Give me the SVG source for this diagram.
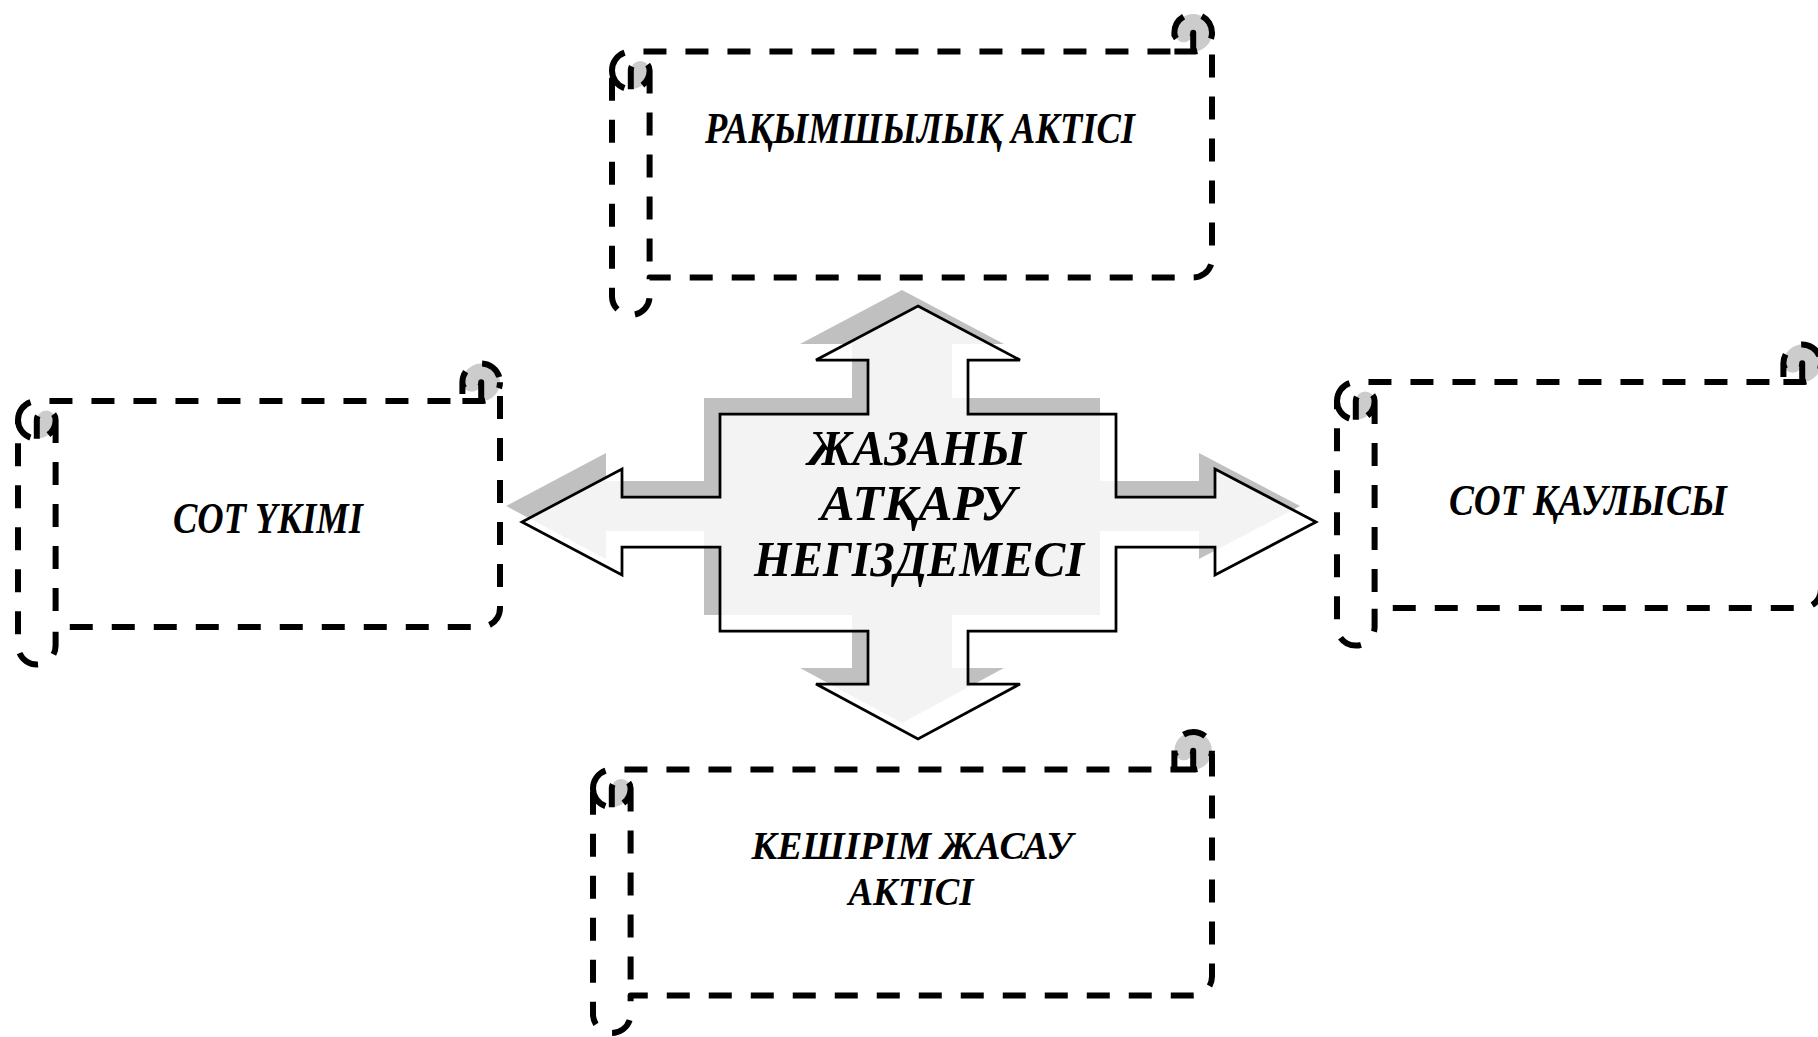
<svg xmlns="http://www.w3.org/2000/svg" width="1818" height="1037" viewBox="0 0 1818 1037">
<style>
  .sfill{fill:#ffffff;stroke:none}
  .sdark{fill:#cccccc;stroke:none}
  .sline{fill:none;stroke:#000;stroke-width:6;stroke-dasharray:23 19;stroke-linecap:butt;stroke-linejoin:round}
  .lbl{font-family:"Liberation Serif","Times New Roman",serif;font-weight:bold;font-style:italic;font-size:44px;fill:#000;text-anchor:middle}
  .ctr{font-size:50px}
  .sm{font-size:40px}
  .shadow{fill:#c0c0c0;stroke:none}
  .arrow{fill:#ffffff;fill-opacity:0.8;stroke:#000;stroke-width:2.75;stroke-linejoin:miter}
</style>
<rect width="1818" height="1037" fill="#ffffff"/>

<g id="connectors">
  <polygon class="shadow" transform="translate(-16,-16)" points="918,306 1020,360 968,360 968,414 1116,414 1116,497 1215,497 1215,469 1316,522 1215,575 1215,547 1116,547 1116,631 968,631 968,684 1020,684 918,739 816,684 868,684 868,631 720,631 720,547 622,547 622,575 522,522 622,469 622,497 720,497 720,414 868,414 868,360 816,360"/>
  <polygon class="arrow" points="918,306 1020,360 968,360 968,414 1116,414 1116,497 1215,497 1215,469 1316,522 1215,575 1215,547 1116,547 1116,631 968,631 968,684 1020,684 918,739 816,684 868,684 868,631 720,631 720,547 622,547 622,575 522,522 622,469 622,497 720,497 720,414 868,414 868,360 816,360"/>
</g>

<g id="center">
  <text class="lbl ctr" x="917" y="465" textLength="218" lengthAdjust="spacingAndGlyphs">ЖАЗАНЫ</text>
  <text class="lbl ctr" x="918" y="520" textLength="195" lengthAdjust="spacingAndGlyphs">АТҚАРУ</text>
  <text class="lbl ctr" x="919" y="576" textLength="330" lengthAdjust="spacingAndGlyphs">НЕГІЗДЕМЕСІ</text>
</g>

<!-- Top scroll: w=600 -->
<g id="node-top" transform="translate(612,14)">
  <path class="sfill" d="M600 18.8 A18.8 18.8 0 0 1 581.2 37.6 L581.2 18.8 A9.4 9.4 0 0 1 562.4 18.8 L562.4 37.6 L18.8 37.6 A18.8 18.8 0 0 0 0 56.4 L0 282.2 A18.8 18.8 0 0 0 37.6 282.2 L37.6 263.4 L581.2 263.4 A18.8 18.8 0 0 0 600 244.6 Z"/>
  <path class="sdark" d="M18.8 75.2 A18.8 18.8 0 0 0 37.6 56.4 A9.4 9.4 0 0 0 18.8 56.4 Z M581.2 37.6 A18.8 18.8 0 1 0 562.4 18.8 A9.4 9.4 0 0 0 581.2 18.8 Z"/>
  <path class="sline" d="M0 56.4 A18.8 18.8 0 0 1 18.8 37.6 L562.4 37.6 L562.4 18.8 A18.8 18.8 0 0 1 600 18.8 L600 244.6 A18.8 18.8 0 0 1 581.2 263.4 L37.6 263.4 L37.6 282.2 A18.8 18.8 0 0 1 0 282.2 Z M562.4 37.6 L581.2 37.6 A18.8 18.8 0 0 0 600 18.8 M581.2 37.6 L581.2 18.8 A9.4 9.4 0 0 1 562.4 18.8 M18.8 75.2 L18.8 56.4 A9.4 9.4 0 0 1 37.6 56.4 A18.8 18.8 0 0 1 0 56.4 M37.6 56.4 L37.6 263.4"/>
  <text class="lbl" x="308" y="129" textLength="430" lengthAdjust="spacingAndGlyphs">РАҚЫМШЫЛЫҚ АКТІСІ</text>
</g>

<!-- Left scroll: w=482 -->
<g id="node-left" transform="translate(18,363.5)">
  <path class="sfill" d="M482 18.8 A18.8 18.8 0 0 1 463.2 37.6 L463.2 18.8 A9.4 9.4 0 0 1 444.4 18.8 L444.4 37.6 L18.8 37.6 A18.8 18.8 0 0 0 0 56.4 L0 282.2 A18.8 18.8 0 0 0 37.6 282.2 L37.6 263.4 L463.2 263.4 A18.8 18.8 0 0 0 482 244.6 Z"/>
  <path class="sdark" d="M18.8 75.2 A18.8 18.8 0 0 0 37.6 56.4 A9.4 9.4 0 0 0 18.8 56.4 Z M463.2 37.6 A18.8 18.8 0 1 0 444.4 18.8 A9.4 9.4 0 0 0 463.2 18.8 Z"/>
  <path class="sline" d="M0 56.4 A18.8 18.8 0 0 1 18.8 37.6 L444.4 37.6 L444.4 18.8 A18.8 18.8 0 0 1 482 18.8 L482 244.6 A18.8 18.8 0 0 1 463.2 263.4 L37.6 263.4 L37.6 282.2 A18.8 18.8 0 0 1 0 282.2 Z M444.4 37.6 L463.2 37.6 A18.8 18.8 0 0 0 482 18.8 M463.2 37.6 L463.2 18.8 A9.4 9.4 0 0 1 444.4 18.8 M18.8 75.2 L18.8 56.4 A9.4 9.4 0 0 1 37.6 56.4 A18.8 18.8 0 0 1 0 56.4 M37.6 56.4 L37.6 263.4"/>
  <text class="lbl" x="250" y="169.5" textLength="190" lengthAdjust="spacingAndGlyphs">СОТ ҮКІМІ</text>
</g>

<!-- Right scroll: w=484 (right edge runs off the page) -->
<g id="node-right" transform="translate(1337,344.5)">
  <path class="sfill" d="M484 18.8 A18.8 18.8 0 0 1 465.2 37.6 L465.2 18.8 A9.4 9.4 0 0 1 446.4 18.8 L446.4 37.6 L18.8 37.6 A18.8 18.8 0 0 0 0 56.4 L0 282.2 A18.8 18.8 0 0 0 37.6 282.2 L37.6 263.4 L465.2 263.4 A18.8 18.8 0 0 0 484 244.6 Z"/>
  <path class="sdark" d="M18.8 75.2 A18.8 18.8 0 0 0 37.6 56.4 A9.4 9.4 0 0 0 18.8 56.4 Z M465.2 37.6 A18.8 18.8 0 1 0 446.4 18.8 A9.4 9.4 0 0 0 465.2 18.8 Z"/>
  <path class="sline" d="M0 56.4 A18.8 18.8 0 0 1 18.8 37.6 L446.4 37.6 L446.4 18.8 A18.8 18.8 0 0 1 484 18.8 L484 244.6 A18.8 18.8 0 0 1 465.2 263.4 L37.6 263.4 L37.6 282.2 A18.8 18.8 0 0 1 0 282.2 Z M446.4 37.6 L465.2 37.6 A18.8 18.8 0 0 0 484 18.8 M465.2 37.6 L465.2 18.8 A9.4 9.4 0 0 1 446.4 18.8 M18.8 75.2 L18.8 56.4 A9.4 9.4 0 0 1 37.6 56.4 A18.8 18.8 0 0 1 0 56.4 M37.6 56.4 L37.6 263.4"/>
  <text class="lbl" x="251" y="170.5" textLength="278" lengthAdjust="spacingAndGlyphs">СОТ ҚАУЛЫСЫ</text>
</g>

<!-- Bottom scroll: w=619 -->
<g id="node-bottom" transform="translate(593,732)">
  <path class="sfill" d="M619 18.8 A18.8 18.8 0 0 1 600.2 37.6 L600.2 18.8 A9.4 9.4 0 0 1 581.4 18.8 L581.4 37.6 L18.8 37.6 A18.8 18.8 0 0 0 0 56.4 L0 282.2 A18.8 18.8 0 0 0 37.6 282.2 L37.6 263.4 L600.2 263.4 A18.8 18.8 0 0 0 619 244.6 Z"/>
  <path class="sdark" d="M18.8 75.2 A18.8 18.8 0 0 0 37.6 56.4 A9.4 9.4 0 0 0 18.8 56.4 Z M600.2 37.6 A18.8 18.8 0 1 0 581.4 18.8 A9.4 9.4 0 0 0 600.2 18.8 Z"/>
  <path class="sline" d="M0 56.4 A18.8 18.8 0 0 1 18.8 37.6 L581.4 37.6 L581.4 18.8 A18.8 18.8 0 0 1 619 18.8 L619 244.6 A18.8 18.8 0 0 1 600.2 263.4 L37.6 263.4 L37.6 282.2 A18.8 18.8 0 0 1 0 282.2 Z M581.4 37.6 L600.2 37.6 A18.8 18.8 0 0 0 619 18.8 M600.2 37.6 L600.2 18.8 A9.4 9.4 0 0 1 581.4 18.8 M18.8 75.2 L18.8 56.4 A9.4 9.4 0 0 1 37.6 56.4 A18.8 18.8 0 0 1 0 56.4 M37.6 56.4 L37.6 263.4"/>
  <text class="lbl sm" x="319" y="127" textLength="321" lengthAdjust="spacingAndGlyphs">КЕШІРІМ ЖАСАУ</text>
  <text class="lbl sm" x="318" y="173" textLength="125" lengthAdjust="spacingAndGlyphs">АКТІСІ</text>
</g>
</svg>
